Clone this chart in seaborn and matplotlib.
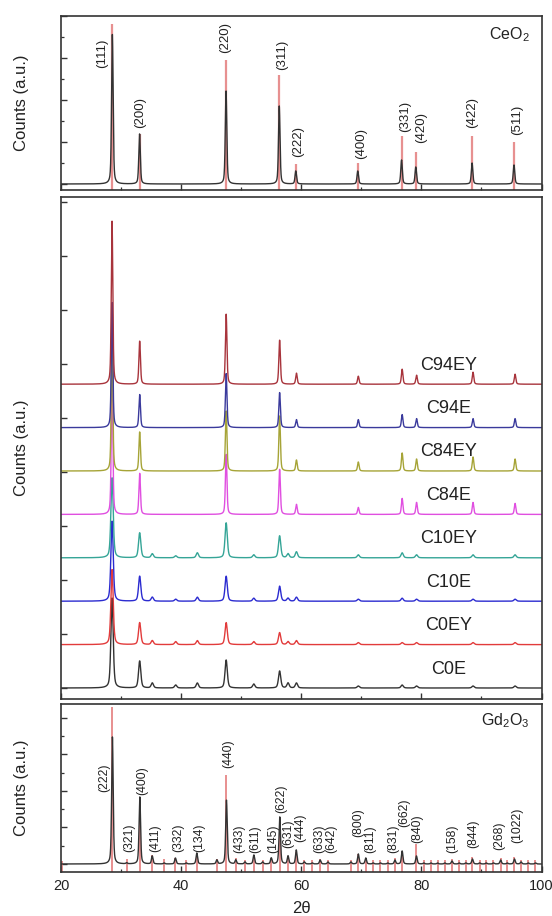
"""XRD patterns: CeO2 reference, stacked samples, Gd2O3 reference."""
import numpy as np
import pandas as pd
import matplotlib
matplotlib.use("Agg")
import matplotlib.pyplot as plt
from matplotlib.ticker import MultipleLocator, NullFormatter
import seaborn as sns

sns.set_theme(style="ticks")
plt.rcParams["font.family"] = ["Liberation Sans", "DejaVu Sans"]
plt.rcParams["mathtext.fontset"] = "custom"
plt.rcParams["mathtext.rm"] = "Liberation Sans"
plt.rcParams["mathtext.default"] = "rm"

# --- CeO2 reference (top panel), heights in arbitrary counts ---
CEO2_HKL = ["(111)", "(200)", "(220)", "(311)", "(222)", "(400)", "(331)", "(420)", "(422)", "(511)"]
CEO2_POS = [28.55, 33.08, 47.48, 56.34, 59.09, 69.41, 76.70, 79.07, 88.44, 95.42]
CEO2_REF = [160, 50, 124, 109, 20, 21, 48, 32, 48, 42]
CEO2_OBS = [150, 50, 93, 78, 13, 13, 24, 17, 21, 19]
CEO2_LABEL_X = [26.8, 33.2, 47.3, 56.8, 59.55, 69.95, 77.3, 79.95, 88.45, 95.95]
CEO2_LABEL_Y = [116, 56, 131, 114, 27, 25, 52, 41, 56, 49]

# --- samples (middle panel) ---
SAMPLES = ["C0E", "C0EY", "C10E", "C10EY", "C84E", "C84EY", "C94E", "C94EY"]
MID_POS = [28.5, 33.1, 35.2, 39.1, 42.7, 47.5, 52.1, 56.4, 57.8, 59.2, 69.5, 76.8, 79.2, 88.6, 95.6]
C0E_H = [90, 27, 5, 3, 5, 28, 4, 17, 5, 5, 2, 3, 2, 2, 2]
C0EY_H = [75, 22, 4, 3, 4, 22, 3, 12, 3, 4, 2, 2, 2, 2, 2]
C10E_H = [80, 25, 4, 2, 4, 25, 3, 15, 3, 4, 2, 3, 2, 2, 2]
C10EY_H = [80, 25, 4, 2, 5, 35, 3, 22, 4, 6, 3, 5, 3, 3, 3]
C84E_H = [140, 41, 0, 0, 0, 60, 0, 45, 0, 10, 7, 16, 12, 12, 11]
C84EY_H = [135, 39, 0, 0, 0, 60, 0, 55, 0, 11, 9, 18, 12, 14, 12]
C94E_H = [125, 33, 0, 0, 0, 54, 0, 35, 0, 8, 8, 13, 9, 9, 9]
C94EY_H = [163, 43, 0, 0, 0, 70, 0, 44, 0, 11, 8, 15, 9, 12, 10]
SAMPLE_H = [C0E_H, C0EY_H, C10E_H, C10EY_H, C84E_H, C84EY_H, C94E_H, C94EY_H]

# --- Gd2O3 reference (bottom panel) ---
GD_POS = [20.1, 28.56, 30.93, 33.12, 35.19, 37.17, 39.05, 40.86, 42.61, 45.95, 47.55,
          49.10, 50.63, 52.11, 53.57, 55.01, 56.42, 57.80, 59.17, 60.51, 61.84, 63.15,
          64.45, 68.27, 69.50, 70.74, 71.97, 73.19, 74.40, 75.60, 76.80, 79.18, 80.4,
          81.6, 82.7, 83.9, 85.1, 86.3, 87.4, 88.5, 89.7, 90.8, 92.0, 93.2, 94.3, 95.5,
          96.6, 97.8, 99.0]
GD_REF = [3, 157, 5, 67, 9, 5, 6, 4, 10, 5, 89,
          6, 4, 8, 4, 6, 47, 7, 12, 4, 4, 5,
          4, 4, 10, 6, 4, 4, 4, 6, 10, 20, 4,
          4, 4, 4, 5, 4, 4, 7, 4, 4, 4, 6, 4, 7,
          4, 4, 4]
GD_OBS = [0, 127, 1, 67, 8, 1, 6, 1, 11, 4, 64,
          4, 2, 9, 2, 6, 47, 8, 14, 2, 1, 4,
          2, 2, 10, 6, 1, 1, 1, 4, 13, 8, 1,
          1, 1, 1, 3, 1, 1, 5, 1, 1, 1, 4, 1, 5,
          2, 1, 1]
GD_HKL = ["(222)", "(321)", "(400)", "(411)", "(332)", "(134)", "(440)", "(433)", "(611)",
          "(145)", "(622)", "(631)", "(444)", "(633)", "(642)", "(800)", "(811)", "(831)",
          "(662)", "(840)", "(158)", "(844)", "(268)", "(1022)"]
GD_LABEL_X = [27.2, 31.3, 33.55, 35.65, 39.45, 43.0, 47.9, 49.7, 52.3, 55.3, 56.7, 57.85,
              59.8, 63.05, 64.95, 69.45, 71.55, 75.4, 77.2, 79.3, 85.1, 88.7, 92.9, 95.95]
GD_LABEL_Y = [72, 12, 69, 12, 12, 12, 96, 11, 11, 11, 51, 16, 22, 11, 11, 27, 11, 11,
              37, 21, 11, 16, 14, 21]

COLORS = ["#333333", "#e23b3b", "#2b2bd0", "#35a597", "#e04fe0", "#a6a437", "#3a3a9c", "#a8343c"]
FWHM = [0.45, 0.45, 0.45, 0.45, 0.3, 0.3, 0.3, 0.3]
STEP = 43.4
STICK = "#e58484"
INK = "#333333"

TT = np.linspace(20, 100, 4001)


def profile(pos, heights, fwhm):
    y = np.zeros_like(TT)
    s = fwhm / 2.3548
    g = fwhm / 2
    for c, h in zip(pos, heights):
        d = TT - c
        y += h * (0.55 * np.exp(-0.5 * (d / s) ** 2) + 0.45 / (1 + (d / g) ** 2))
    return y


def style_axis(ax, ymaj, ymin, ylim):
    ax.set_xlim(20, 100)
    ax.set_ylim(*ylim)
    ax.xaxis.set_major_locator(MultipleLocator(20))
    ax.xaxis.set_minor_locator(MultipleLocator(10))
    ax.yaxis.set_major_locator(MultipleLocator(ymaj))
    if ymin:
        ax.yaxis.set_minor_locator(MultipleLocator(ymin))
    ax.yaxis.set_major_formatter(NullFormatter())
    ax.tick_params(which="both", direction="in", top=False, right=False, color=INK)
    ax.tick_params(which="major", length=4.5, width=1.0)
    ax.tick_params(which="minor", length=2.5, width=0.9)
    for sp in ax.spines.values():
        sp.set_color(INK)
        sp.set_linewidth(1.2)
    ax.set_ylabel("Counts (a.u.)", fontsize=12, color="#222222")
    ax.yaxis.set_label_coords(-0.066, 0.5)
    ax.set_xlabel("")


fig = plt.figure(figsize=(5.52, 9.16), dpi=100)
W = 480.5 / 552
L = 61 / 552
ax_top = fig.add_axes([L, 1 - 190 / 916, W, 174.3 / 916])
ax_mid = fig.add_axes([L, 1 - 699 / 916, W, 502 / 916])
ax_bot = fig.add_axes([L, 1 - 872 / 916, W, 168 / 916])

# top: CeO2
top_df = pd.DataFrame({"two_theta": TT, "counts": profile(CEO2_POS, CEO2_OBS, 0.3)})
ax_top.vlines(CEO2_POS, -6, CEO2_REF, color=STICK, lw=1.6, alpha=0.9)
sns.lineplot(data=top_df, x="two_theta", y="counts", ax=ax_top, color=INK, lw=1.0,
             estimator=None, sort=False)
for lab, x, y in zip(CEO2_HKL, CEO2_LABEL_X, CEO2_LABEL_Y):
    ax_top.text(x, y, lab, rotation=90, ha="center", va="bottom", fontsize=9.5, color="#222222")
ax_top.text(0.975, 0.89, "CeO$_2$", transform=ax_top.transAxes, ha="right", va="center",
            fontsize=11.5, color="#222222")
style_axis(ax_top, 42, 21, (-6, 168.3))
ax_top.xaxis.set_major_formatter(NullFormatter())

# middle: stacked samples
frames = []
for i, (name, h) in enumerate(zip(SAMPLES, SAMPLE_H)):
    frames.append(pd.DataFrame({"two_theta": TT,
                                "counts": profile(MID_POS, h, FWHM[i]) + i * STEP,
                                "sample": name}))
mid_df = pd.concat(frames, ignore_index=True)
sns.lineplot(data=mid_df, x="two_theta", y="counts", hue="sample", hue_order=SAMPLES,
             palette=dict(zip(SAMPLES, COLORS)), ax=ax_mid, lw=1.0, legend=False,
             estimator=None, sort=False)
for i, name in enumerate(SAMPLES):
    ax_mid.text(84.5, i * STEP + 19, name, ha="center", va="center", fontsize=13,
                color="#222222")
style_axis(ax_mid, 54, None, (-11, 491))
ax_mid.xaxis.set_major_formatter(NullFormatter())

# bottom: Gd2O3
bot_df = pd.DataFrame({"two_theta": TT, "counts": profile(GD_POS, GD_OBS, 0.3)})
ax_bot.vlines(GD_POS, -8, GD_REF, color=STICK, lw=1.4, alpha=0.9)
sns.lineplot(data=bot_df, x="two_theta", y="counts", ax=ax_bot, color=INK, lw=1.0,
             estimator=None, sort=False)
for lab, x, y in zip(GD_HKL, GD_LABEL_X, GD_LABEL_Y):
    ax_bot.text(x, y, lab, rotation=90, ha="center", va="bottom", fontsize=8.8, color="#222222")
ax_bot.text(0.975, 0.9, "Gd$_2$O$_3$", transform=ax_bot.transAxes, ha="right", va="center",
            fontsize=11.5, color="#222222")
style_axis(ax_bot, 36.6, 18.3, (-8, 160))
ax_bot.tick_params(axis="x", labelsize=10.5, pad=5, labelcolor="#222222")
ax_bot.set_xlabel("2θ", fontsize=12, color="#222222", labelpad=6)

fig.savefig("out.png", dpi=100)
